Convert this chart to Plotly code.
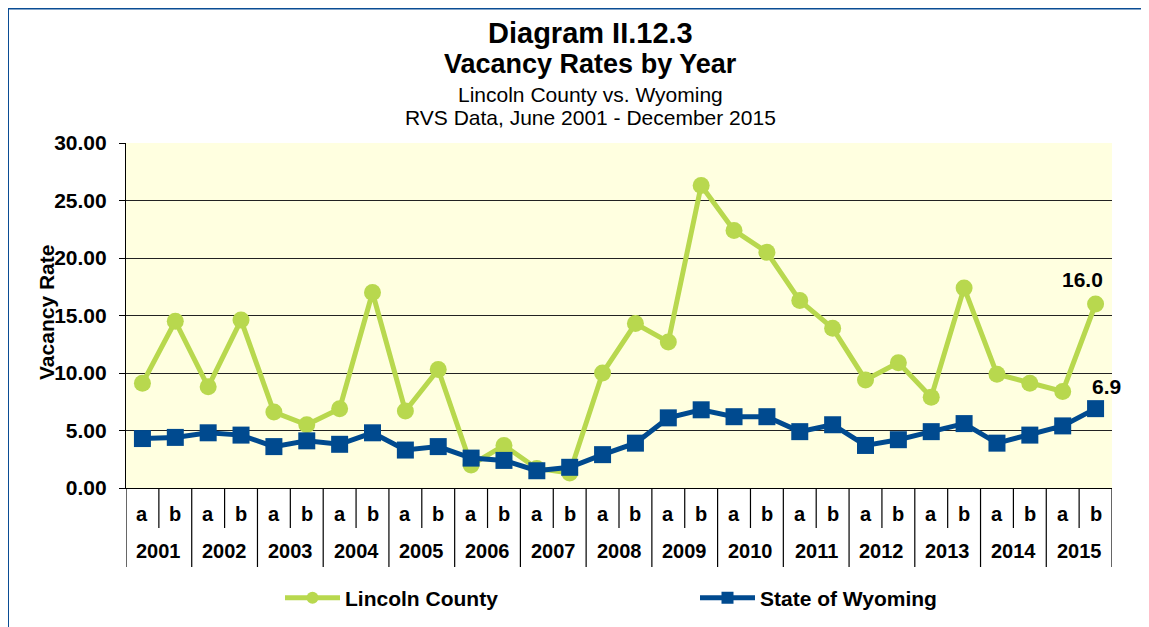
import plotly.graph_objects as go

years = [str(y) for y in range(2001, 2016)]
halves = ["a", "b"]
lincoln = [9.1, 14.5, 8.8, 14.6, 6.6, 5.5, 6.9, 17.0, 6.7, 10.3,
           2.0, 3.7, 1.7, 1.3, 10.0, 14.3, 12.7, 26.3, 22.4, 20.5,
           16.3, 13.9, 9.4, 10.9, 7.9, 17.4, 9.9, 9.1, 8.4, 16.0]
wyoming = [4.3, 4.4, 4.8, 4.6, 3.6, 4.1, 3.8, 4.8, 3.3, 3.6,
           2.6, 2.4, 1.5, 1.8, 2.9, 3.9, 6.1, 6.8, 6.2, 6.2,
           4.9, 5.5, 3.7, 4.2, 4.9, 5.6, 3.9, 4.6, 5.4, 6.9]
y_ticks = [0, 5, 10, 15, 20, 25, 30]

FONT = "Liberation Sans, Arial, sans-serif"
GREEN = "#B8D84E"
BLUE = "#004A8F"

# page has an 8px body margin; work in screen coordinates
OFF = 8
W, H = 1149 - OFF, 627 - OFF
PL, PR, PT, PB = 126, 1112, 143, 488   # plot area in screen px
L, R, T, B = PL - OFF, W - (PR - OFF), PT - OFF, H - (PB - OFF)
pw, ph = PR - PL, PB - PT

def px_x(sx):
    return (sx - PL) / pw

def px_y(sy):
    return (PB - sy) / ph

n = len(lincoln)
xs = list(range(n))

fig = go.Figure()
fig.add_trace(go.Scatter(
    x=xs, y=lincoln, mode="lines+markers", name="<b>Lincoln County</b>",
    line=dict(color=GREEN, width=5),
    marker=dict(symbol="circle", size=17, color=GREEN),
))
fig.add_trace(go.Scatter(
    x=xs, y=wyoming, mode="lines+markers", name="<b>State of Wyoming</b>",
    line=dict(color=BLUE, width=5),
    marker=dict(symbol="square", size=17, color=BLUE),
))

annotations = []
shapes = []

titles = [
    ("<b>Diagram II.12.3</b>", 29, 33),
    ("<b>Vacancy Rates by Year</b>", 27, 64),
    ("Lincoln County vs. Wyoming", 21, 94),
    ("RVS Data, June 2001 - December 2015", 21, 117),
]
for txt, sz, cy in titles:
    annotations.append(dict(text=txt, x=px_x(590), y=px_y(cy), xref="paper", yref="paper",
                            showarrow=False, xanchor="center", yanchor="middle",
                            font=dict(family=FONT, size=sz, color="black")))

annotations.append(dict(text="<b>Vacancy Rate</b>", x=px_x(46), y=px_y(313), xref="paper", yref="paper",
                        showarrow=False, textangle=-90, xanchor="center", yanchor="middle",
                        font=dict(family=FONT, size=21, color="black")))

for i in range(n):
    annotations.append(dict(text="<b>%s</b>" % halves[i % 2], x=i, y=px_y(514), xref="x", yref="paper",
                            showarrow=False, xanchor="center", yanchor="middle",
                            font=dict(family=FONT, size=20, color="black")))
for j, yr in enumerate(years):
    annotations.append(dict(text="<b>%s</b>" % yr, x=2 * j + 0.5, y=px_y(551), xref="x", yref="paper",
                            showarrow=False, xanchor="center", yanchor="middle",
                            font=dict(family=FONT, size=20, color="black")))

for k in range(n + 1):
    bottom = px_y(567) if k % 2 == 0 else px_y(528)
    shapes.append(dict(type="line", xref="x", yref="paper", x0=k - 0.5, x1=k - 0.5,
                       y0=0, y1=bottom, line=dict(color="black", width=1.2)))

annotations.append(dict(text="<b>%.1f</b>" % lincoln[-1], x=n - 1, y=lincoln[-1], xref="x", yref="y",
                        showarrow=False, yshift=25, xshift=-13,
                        font=dict(family=FONT, size=21, color="black")))
annotations.append(dict(text="<b>%.1f</b>" % wyoming[-1], x=n - 1, y=wyoming[-1], xref="x", yref="y",
                        showarrow=False, yshift=22, xshift=11,
                        font=dict(family=FONT, size=21, color="black")))

shapes.append(dict(type="rect", xref="paper", yref="paper",
                   x0=px_x(6.5), x1=px_x(1145), y0=px_y(660), y1=px_y(7),
                   line=dict(color="#0A4C94", width=5), layer="below"))

fig.update_layout(
    width=W, height=H,
    margin=dict(l=L, r=R, t=T, b=B, autoexpand=False),
    paper_bgcolor="white",
    plot_bgcolor="#FFFFE0",
    font=dict(family=FONT, color="black"),
    showlegend=True,
    legend=dict(orientation="h", x=px_x(280), y=px_y(598), xanchor="left", yanchor="middle",
                font=dict(family=FONT, size=21, color="black"),
                entrywidth=345, entrywidthmode="pixels", bgcolor="rgba(0,0,0,0)",
                itemwidth=55, itemsizing="constant"),
    annotations=annotations,
    shapes=shapes,
)
fig.update_xaxes(range=[-0.5, n - 0.5], showticklabels=False, showgrid=False, zeroline=False,
                 showline=True, linecolor="black", linewidth=1.2, ticks="", automargin=False)
fig.update_yaxes(range=[0, 30], tickvals=y_ticks, ticktext=["<b>%.2f</b>" % v for v in y_ticks],
                 showgrid=True, gridcolor="#222222", gridwidth=1, zeroline=False,
                 showline=True, linecolor="black", linewidth=1.2, automargin=False,
                 ticks="outside", ticklen=6, tickcolor="black", ticklabelstandoff=8,
                 tickfont=dict(family=FONT, size=21, color="black"))

fig.write_html("out.html")
